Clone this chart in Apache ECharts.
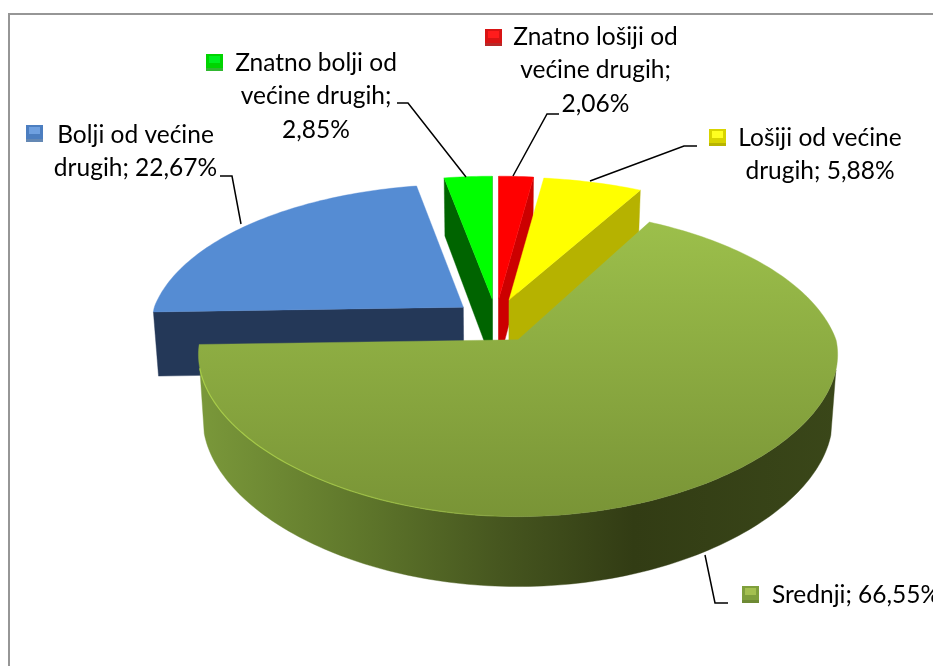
<!DOCTYPE html>
<html><head><meta charset="utf-8">
<style>html,body{margin:0;padding:0;background:#fff;overflow:hidden}#c{width:933px;height:666px}</style>
<script src="https://cdn.jsdelivr.net/npm/echarts@6/dist/echarts.min.js"></script>
</head><body><div id="c"></div>
<script>
// ---- data ----
const categories = ['Znatno lošiji od većine drugih','Lošiji od većine drugih','Srednji','Bolji od većine drugih','Znatno bolji od većine drugih'];
const values = [2.06, 5.88, 66.55, 22.67, 2.85];
const labelLines = [
  ['Znatno lošiji od','većine drugih;','{v}'],
  ['Lošiji od većine','drugih; {v}'],
  ['Srednji; {v}'],
  ['Bolji od većine','drugih; {v}'],
  ['Znatno bolji od','većine drugih;','{v}']
];
// ---- styling / layout ----
const topColors  = ['#FF0000','#FFFF00',null,'#558CD3','#00FF00'];
const wallColors = ['#CC0000','#B6B200','#3A4719','#243858','#006400'];
const keyColors  = [['#D81414','#FF1C1C','#B82828'],['#D8D400','#FFFF20','#B8B400'],['#7F9F3C','#A4C050','#6E8A34'],['#4C7EC0','#6FA0E0','#6488B4'],['#00D400','#00F020','#30B830']];
const radiusX = [1,1,1,0.972,1];
const backY = [1,1,1.07,1,1];
const C = {x:496, y:321}, R = 318, H = 145, K = 0.18, KX_FRONT = 0.1, EU = 42, EV = 22, BOTTOM_X = 0.985;
const FONT = 'Lato';
const FS = 24.5;
const labelPos = [
  {cx:595.5, y:37, key:[485,29], leader:[[559,114],[547,114],[513,176]]},
  {cx:820, y:138, key:[709,129], leader:[[697,146],[684,146],[590,181]]},
  {cx:856, y:595, key:[742,586], leader:[[705,555],[715,603],[728,603]]},
  {cx:135.5, y:135, key:[26,125], leader:[[220,176],[232,176],[241,224]]},
  {cx:316, y:63, key:[206,54], leader:[[397,103],[408,103],[466,177]]}
];
const LINE_H = 33.5;
const total = values.reduce((a,b)=>a+b,0);
const starts = []; values.reduce((acc,v,i)=>{starts[i]=acc;return acc+v;},0);
const rad = p => p/total*Math.PI*2;

function proj(i,a0,a1,u,v,bottom){
  const mid=(a0+a1)/2;
  const ax=C.x+EU*Math.sin(mid), ay=C.y-EV*Math.cos(mid);
  const w=1+K*v, wx=v<0?1+KX_FRONT*v:w;
  let X=ax+R*radiusX[i]*u/wx, Y=ay-H*v/w*(v>0?backY[i]:1);
  if(bottom){ X=C.x+(X-C.x)*BOTTOM_X; Y+=64-6*v; }
  return [X,Y];
}
function arcPts(a,b){ const n=Math.max(6,Math.ceil((b-a)/0.02)),r=[]; for(let k=0;k<=n;k++) r.push(a+(b-a)*k/n); return r; }

function renderItem(params,api){
  const i=params.dataIndex, val=api.value(0);
  const a0=rad(starts[i]), a1=a0+rad(val), mid=(a0+a1)/2;
  const depth=100+Math.round((1-Math.cos(mid))*50);
  const A=[EU*Math.sin(mid)/R, EV*Math.cos(mid)/H], E=[0,-1/K];
  const kids=[];
  const add=(pts,fill,z)=>kids.push({type:'polygon',z2:depth+z,shape:{points:pts},style:{fill:fill,stroke:fill,lineWidth:0.4}});
  const cut=(a,sign)=>{
    const n=sign>0?[Math.cos(a),-Math.sin(a)]:[-Math.cos(a),Math.sin(a)];
    if(n[0]*(E[0]-A[0])+n[1]*(E[1]-A[1])<=0) return;
    const u=Math.sin(a),v=Math.cos(a);
    add([proj(i,a0,a1,u,v,false),proj(i,a0,a1,0,0,false),proj(i,a0,a1,0,0,true),proj(i,a0,a1,u,v,true)],wallColors[i],1);
  };
  cut(a0,-1); cut(a1,1);
  // outer wall: only the arc part that faces the eye
  const vis=arcPts(a0,a1).filter(a=>{
    const u=Math.sin(a),v=Math.cos(a);
    return u*(E[0]-A[0]-u)+v*(E[1]-A[1]-v)>0;
  });
  if(vis.length>1){
    const t=vis.map(a=>proj(i,a0,a1,Math.sin(a),Math.cos(a),false));
    const b=vis.map(a=>proj(i,a0,a1,Math.sin(a),Math.cos(a),true)).reverse();
    const fill=topColors[i]?wallColors[i]:new echarts.graphic.LinearGradient(200,0,838,0,[
      {offset:0,color:'#7A983A'},{offset:0.25,color:'#5F772B'},{offset:0.47,color:'#46561F'},
      {offset:0.68,color:'#323C14'},{offset:1,color:'#3A4719'}],true);
    add(t.concat(b),fill,2);
  }
  const top=[proj(i,a0,a1,0,0,false)].concat(arcPts(a0,a1).map(a=>proj(i,a0,a1,Math.sin(a),Math.cos(a),false)));
  const topFill=topColors[i]||new echarts.graphic.LinearGradient(0,222,0,517,[{offset:0,color:'#9CBF4B'},{offset:1,color:'#799436'}],true);
  add(top,topFill,3);
  if(!topColors[i]){
    const rim=vis.map(a=>proj(i,a0,a1,Math.sin(a),Math.cos(a),false)).reverse();
    kids.push({type:'polyline',z2:depth+4,shape:{points:rim},style:{fill:'none',lineWidth:1.2,
      stroke:new echarts.graphic.LinearGradient(198,0,540,0,[{offset:0,color:'rgba(170,208,70,0.9)'},{offset:0.7,color:'rgba(170,208,70,0.5)'},{offset:1,color:'rgba(170,208,70,0)'}],true)}});
  }
  return {type:'group',children:kids};
}

const fmt = v => v.toFixed(2).replace('.',',')+'%';
const graphics=[{type:'rect',silent:true,z:0,shape:{x:9,y:14,width:1000,height:800},style:{fill:'#fff',stroke:'#969696',lineWidth:2}}];
categories.forEach((n,i)=>{
  const L=labelPos[i], [kx,ky]=L.key, kc=keyColors[i];
  graphics.push({type:'polyline',z:20,silent:true,shape:{points:L.leader},style:{fill:'none',stroke:'#000',lineWidth:1.5}});
  graphics.push({type:'rect',z:20,silent:true,shape:{x:kx,y:ky,width:17,height:17},style:{fill:kc[0]}});
  graphics.push({type:'rect',z:21,silent:true,shape:{x:kx+3,y:ky+2,width:11,height:7},style:{fill:kc[1]}});
  graphics.push({type:'rect',z:21,silent:true,shape:{x:kx,y:ky+14,width:17,height:3},style:{fill:kc[2]}});
  labelLines[i].forEach((ln,j)=>{
    graphics.push({type:'text',z:20,silent:true,style:{x:L.cx,y:L.y+j*LINE_H,text:ln.replace('{v}',fmt(values[i])),
      font:FS+'px '+FONT,fill:'#000',align:'center',verticalAlign:'middle'}});
  });
});

const chart=echarts.init(document.getElementById('c'));
chart.setOption({
  animation:false,
  backgroundColor:'#fff',
  graphic:graphics,
  series:[{type:'custom',coordinateSystem:'none',silent:true,z:5,renderItem:renderItem,
    data:categories.map((n,i)=>({name:n,value:[values[i]]}))}]
});
</script></body></html>
